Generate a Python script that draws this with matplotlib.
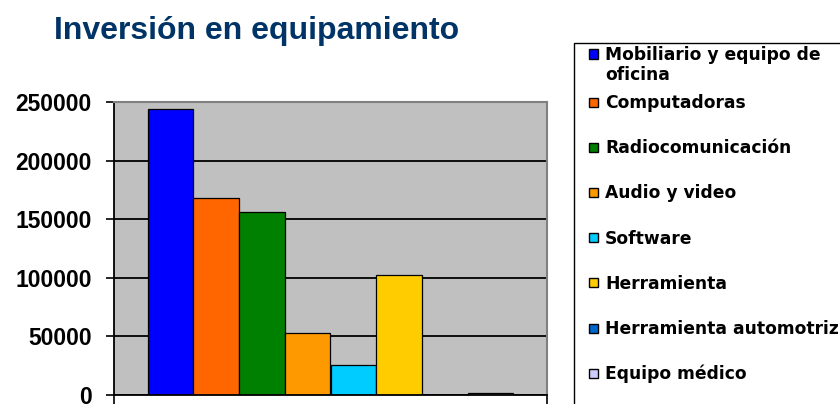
import matplotlib
matplotlib.use("Agg")
import matplotlib.pyplot as plt
from matplotlib.patches import Rectangle

# data
categories = ["Mobiliario y equipo de oficina", "Computadoras", "Radiocomunicación",
              "Audio y video", "Software", "Herramienta", "Herramienta automotriz",
              "Equipo médico"]
values = [244000, 167800, 155800, 53000, 25200, 102500, 0, 1500]
colors = ["#0000FF", "#FF6600", "#008000", "#FF9900", "#00CCFF", "#FFCC00",
          "#0066CC", "#CCCCFF"]
yticks = [0, 50000, 100000, 150000, 200000, 250000]

W, H = 840, 404
fig = plt.figure(figsize=(W / 100, H / 100), dpi=100)


def fx(px):
    return px / W


def fy(py):
    return 1 - py / H


ax = fig.add_axes([fx(114), fy(395), fx(547) - fx(114), fy(102) - fy(395)])
ax.set_facecolor("#C0C0C0")

xpos = list(range(len(values)))
ax.bar(xpos, values, width=1.0, color=colors, edgecolor="black", linewidth=0.9, zorder=3)

ax.set_xlim(-1.24, len(values) - 1 + 1.24)
ax.set_ylim(0, 250000)
ax.set_yticks(yticks)
ax.set_yticklabels([str(v) for v in yticks], fontsize=16.5, fontweight="bold",
                   family="Liberation Sans")
ax.set_xticks(ax.get_xlim())
ax.set_xticklabels(["", ""])
ax.tick_params(axis="y", direction="out", length=6, width=1.2, pad=10)
ax.tick_params(axis="x", direction="out", length=7, width=1.2)
ax.grid(axis="y", color="black", linewidth=1.3, zorder=1)
ax.set_axisbelow(True)

for s in ["left", "bottom"]:
    ax.spines[s].set_color("black")
    ax.spines[s].set_linewidth(1.3)
    ax.spines[s].set_zorder(5)
for s in ["top", "right"]:
    ax.spines[s].set_color("#808080")
    ax.spines[s].set_linewidth(1.5)
    ax.spines[s].set_zorder(5)

# title
fig.text(fx(54), fy(39), "Inversión en equipamiento", fontsize=23, fontweight="bold",
         color="#003366", family="Liberation Sans", va="baseline", ha="left")

# legend box (runs off the right and bottom edge like the original)
fig.patches.append(Rectangle((fx(574), fy(420)), fx(300), fy(43) - fy(420),
                             transform=fig.transFigure, facecolor="white",
                             edgecolor="black", linewidth=1.0))
legend_labels = ["Mobiliario y equipo de\noficina"] + categories[1:]
for i, (lab, col) in enumerate(zip(legend_labels, colors)):
    if i == 0:
        yc = 54
    else:
        yc = 102 + (i - 1) * 45.2
    fig.patches.append(Rectangle((fx(589), fy(yc + 4.5)), fx(9), fy(yc - 4.5) - fy(yc + 4.5),
                                 transform=fig.transFigure, facecolor=col,
                                 edgecolor="black", linewidth=1.0))
    if i == 0:
        fig.text(fx(605), fy(yc - 8), lab, fontsize=12.3, fontweight="bold",
                 family="DejaVu Sans", va="top", ha="left", linespacing=1.15)
    else:
        fig.text(fx(605), fy(yc + 6), lab, fontsize=12.3, fontweight="bold",
                 family="DejaVu Sans", va="baseline", ha="left")

fig.savefig("out.png", dpi=100)
